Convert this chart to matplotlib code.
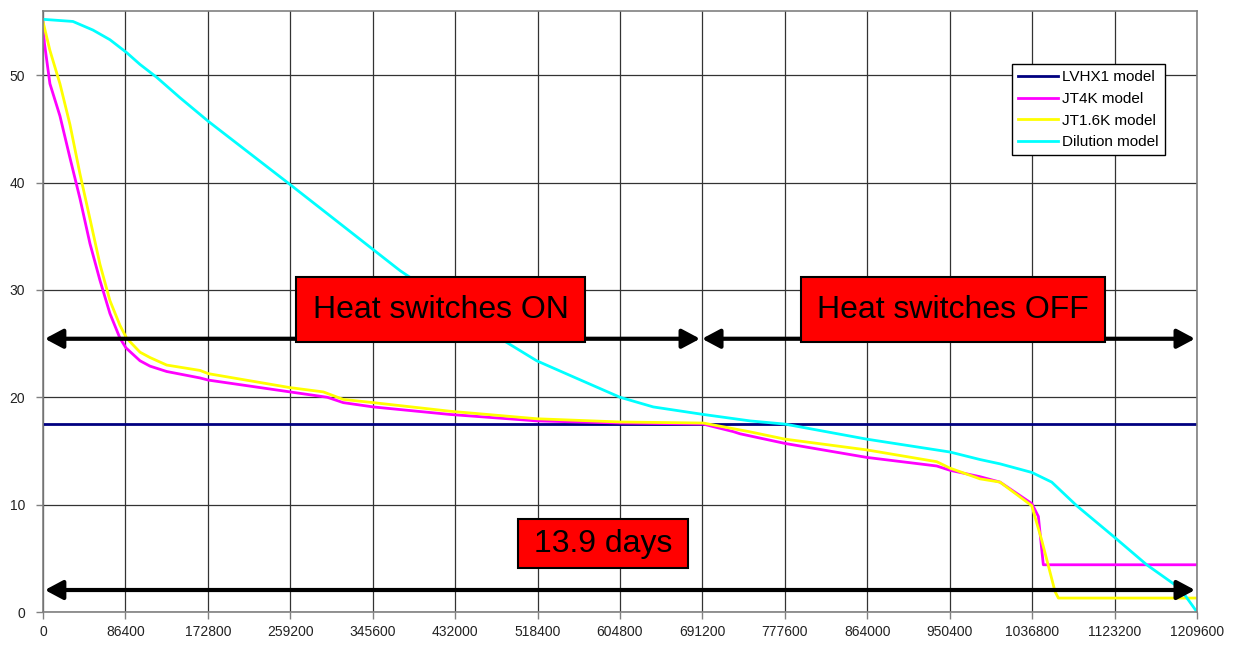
import matplotlib
matplotlib.use("Agg")
import matplotlib.pyplot as plt
from matplotlib.patches import Rectangle

plt.rcParams['font.family'] = ['Liberation Sans', 'DejaVu Sans']

# ---------------- data ----------------
lvhx1_x = [0, 1209600]
lvhx1_y = [17.55, 17.55]

jt4k_x = [0, 1500, 7300, 17800, 28300, 38800, 49300, 59700, 70200, 80700, 87000,
          101700, 112200, 129700, 164600, 173300, 258900, 298000, 314800, 346200,
          426600, 517500, 604800, 692100, 723600, 730600, 777800, 863400, 936800,
          950700, 982200, 1003100, 1036400, 1043300, 1048500, 1209600]
jt4k_y = [55.0, 53.0, 49.2, 46.2, 42.3, 38.5, 34.3, 30.9, 27.8, 25.5, 24.6,
          23.4, 22.9, 22.4, 21.8, 21.6, 20.5, 20.0, 19.5, 19.1,
          18.4, 17.8, 17.6, 17.5, 16.8, 16.6, 15.7, 14.4, 13.6,
          13.2, 12.6, 12.1, 10.1, 8.9, 4.4, 4.4]

jt16k_x = [0, 7300, 17800, 28300, 38800, 49300, 59700, 70200, 80700, 87700,
           101700, 112200, 129700, 164600, 173300, 258900, 293800, 314800, 346200,
           426600, 517500, 604800, 692100, 740000, 777800, 863400, 936800, 950700,
           982200, 1003100, 1036400, 1046800, 1060800, 1064300, 1209600]
jt16k_y = [55.0, 52.3, 49.2, 45.4, 40.8, 36.6, 32.4, 29.0, 26.7, 25.5,
           24.2, 23.7, 23.0, 22.5, 22.2, 20.9, 20.5, 19.8, 19.5,
           18.7, 18.0, 17.7, 17.6, 16.8, 16.1, 15.1, 14.0, 13.4,
           12.4, 12.1, 9.9, 6.7, 1.9, 1.3, 1.3]

dil_x = [0, 31400, 52400, 70200, 87700, 101700, 119200, 143600, 173300, 199500,
         259200, 374200, 482500, 517500, 555900, 604800, 639700, 692100,
         741100, 777800, 863400, 950700, 982200, 1003100, 1036400, 1057300,
         1083500, 1122600, 1156900, 1191800, 1209600]
dil_y = [55.2, 55.0, 54.2, 53.3, 52.1, 51.0, 49.8, 47.9, 45.7, 43.9,
         39.8, 31.8, 25.3, 23.4, 21.9, 20.0, 19.1, 18.4,
         17.8, 17.5, 16.1, 14.9, 14.2, 13.8, 13.0, 12.1,
         9.9, 7.0, 4.4, 2.2, 0.0]

x_ticks = list(range(0, 1209601, 86400))
y_ticks = [0, 10, 20, 30, 40, 50]
series_names = ["LVHX1 model", "JT4K model", "JT1.6K model", "Dilution model"]
series_colors = ["#000080", "#FF00FF", "#FFFF00", "#00FFFF"]

# ---------------- figure ----------------
fig = plt.figure(figsize=(12.38, 6.46), dpi=100)
ax = fig.add_axes([0.0347, 0.0526, 0.9322, 0.9308])
ax.set_xlim(0, 1209600)
ax.set_ylim(0, 56)

ax.set_xticks(x_ticks)
ax.set_xticklabels([str(v) for v in x_ticks])
ax.set_yticks(y_ticks)
ax.tick_params(axis='both', labelsize=10, colors='#808080', labelcolor='#222222',
               direction='out', length=5, width=1)
ax.tick_params(axis='x', pad=4)
ax.tick_params(axis='y', pad=8)
ax.grid(True, color='#333333', linewidth=0.9, zorder=0)
ax.set_axisbelow(True)
for s in ax.spines.values():
    s.set_color('#808080')
    s.set_linewidth(1.2)

series = [(lvhx1_x, lvhx1_y), (jt4k_x, jt4k_y), (jt16k_x, jt16k_y), (dil_x, dil_y)]
for (xs, ys), name, col in zip(series, series_names, series_colors):
    ax.plot(xs, ys, color=col, lw=2.0, label=name, zorder=2)

# arrows
arrow_kw = dict(arrowstyle='<|-|>,head_length=0.6,head_width=0.32', color='black',
                lw=3, shrinkA=0, shrinkB=0, mutation_scale=18)
ax.annotate('', xy=(2000, 25.45), xytext=(688700, 25.45), arrowprops=arrow_kw, zorder=3)
ax.annotate('', xy=(690800, 25.45), xytext=(1207500, 25.45), arrowprops=arrow_kw, zorder=3)
ax.annotate('', xy=(2000, 2.05), xytext=(1207500, 2.05), arrowprops=arrow_kw, zorder=3)

# labelled boxes
def box(x0, x1, y0, y1, text):
    ax.add_patch(Rectangle((x0, y0), x1 - x0, y1 - y0, facecolor='#FF0000',
                           edgecolor='black', lw=1.5, zorder=4))
    ax.text((x0 + x1) / 2, (y0 + y1) / 2, text, ha='center', va='center',
            fontsize=23, color='black', zorder=5)

box(265200, 568100, 25.12, 31.16, "Heat switches ON")
box(794500, 1113200, 25.12, 31.16, "Heat switches OFF")
box(497900, 676100, 4.09, 8.64, "13.9 days")

leg = ax.legend(loc='upper left', bbox_to_anchor=(0.8394, 0.9109), fontsize=11,
                frameon=True, fancybox=False, borderaxespad=0, borderpad=0.4,
                handlelength=2.6, handletextpad=0.3, labelspacing=0.5,
                edgecolor='black', framealpha=1)
leg.get_frame().set_linewidth(1.0)
leg.set_zorder(10)

fig.savefig('out.png', dpi=100)
